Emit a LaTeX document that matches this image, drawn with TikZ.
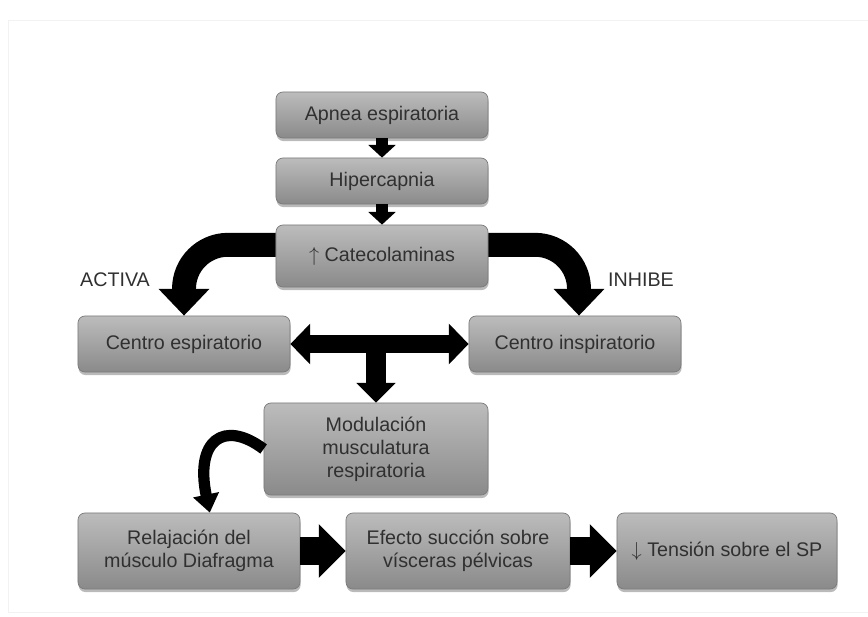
\documentclass[tikz,border=0pt]{standalone}
\usepackage{fontspec}
\setmainfont{Liberation Sans}
\usetikzlibrary{arrows.meta,shadows}
\definecolor{BoxTop}{HTML}{BCBCBC}
\definecolor{BoxBot}{HTML}{8A8A8A}
\definecolor{BoxLine}{HTML}{7A7A7A}
\definecolor{Ink}{HTML}{303030}
\tikzset{
  box/.style={rounded corners=5pt,draw=BoxLine,line width=0.5pt,top color=BoxTop,bottom color=BoxBot,
    drop shadow={shadow xshift=0.4pt,shadow yshift=-2.2pt,fill=black!60,opacity=0.45},
    font=\fontsize{14}{16.5}\selectfont,text=Ink,align=center,inner sep=2pt},
  tag/.style={font=\fontsize{14}{16.5}\selectfont,text=Ink},
  smallarrow/.style={line width=8.5pt,-{Triangle[width=19pt,length=9pt]}},
  bigarrow/.style={line width=17pt,-{Triangle[width=35pt,length=19pt]}},
  twoarrow/.style={line width=13pt,{Triangle[width=28pt,length=14pt]}-{Triangle[width=28pt,length=14pt]}},
  downarrow/.style={line width=14pt,-{Triangle[width=27pt,length=14pt]}},
  curlarrow/.style={line width=8pt,-{Triangle[width=18pt,length=13pt]}},
  blockarrow/.style={line width=20pt,-{Triangle[width=37pt,length=19pt]}},
}
\begin{document}
\begin{tikzpicture}[x=0.025cm,y=-0.025cm,line join=round]
\useasboundingbox (0,0) rectangle (868,617);
\draw[black!5,line width=0.6pt] (8,20) rectangle (868,612);

% Top chain
\node[box,minimum width=5.3cm,minimum height=1.15cm] (apnea) at (382,115) {Apnea espiratoria};
\node[box,minimum width=5.3cm,minimum height=1.15cm] (hiper) at (382,181) {Hipercapnia};
\node[box,minimum width=5.3cm,minimum height=1.55cm] (cat) at (382,256) {$\uparrow$ Catecolaminas};

% Centres
\node[box,minimum width=5.3cm,minimum height=1.4cm] (esp) at (184,344) {Centro espiratorio};
\node[box,minimum width=5.3cm,minimum height=1.4cm] (insp) at (575,344) {Centro inspiratorio};
\node[tag] (activa) at (115,280) {ACTIVA};
\node[tag] (inhibe) at (641,280) {INHIBE};

% Modulation
\node[box,minimum width=5.6cm,minimum height=2.3cm] (mod) at (376,449) {Modulación\\musculatura\\respiratoria};

% Bottom row
\node[box,minimum width=5.55cm,minimum height=1.9cm] (relaj) at (189,551) {Relajación del\\músculo Diafragma};
\node[box,minimum width=5.6cm,minimum height=1.9cm] (efecto) at (458,551) {Efecto succión sobre\\vísceras pélvicas};
\node[box,minimum width=5.5cm,minimum height=1.9cm] (tension) at (727,551) {$\downarrow$ Tensión sobre el SP};

% Arrows
\draw[smallarrow] (apnea.south) -- (hiper.north);
\draw[smallarrow] (hiper.south) -- (cat.north);
\draw[bigarrow,rounded corners=1.1cm] ([yshift=0.28cm]cat.west) -| (esp.north);
\draw[bigarrow,rounded corners=1.1cm] ([yshift=0.28cm]cat.east) -| ([xshift=0.1cm]insp.north);
\draw[twoarrow] (esp.east) -- (insp.west);
\draw[downarrow] (mod.north |- esp.east) -- (mod.north);
\draw[curlarrow] (mod.west) .. controls +(-40,-30) and +(-15,-72) .. ([xshift=0.52cm]relaj.north);
\draw[blockarrow] (relaj.east) -- (efecto.west);
\draw[blockarrow] (efecto.east) -- (tension.west);

\end{tikzpicture}
\end{document}
